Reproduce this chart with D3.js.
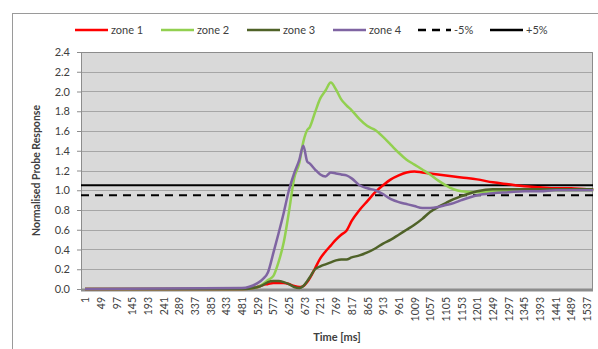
<!DOCTYPE html>
<html>
<head>
<meta charset="utf-8">
<script src="https://cdn.jsdelivr.net/npm/d3@7"></script>
<style>
  body { margin: 0; background: #fff; }
  svg text { font-family: Lato, "Open Sans", sans-serif; fill: #404040; }
</style>
</head>
<body>
<div id="chart"></div>
<script>
// sample times (ms) shared by all series
var times = [1, 481, 529, 545, 561, 577, 593, 609, 625, 641, 657, 669, 681, 689, 705, 721, 737, 753, 769, 785, 801, 817,
    841, 865, 889, 913, 937, 961, 985, 1009, 1033, 1057, 1081, 1105, 1129, 1153, 1201, 1249, 1297, 1345, 1393, 1441, 1489, 1537, 1556];

var zone1 = [0, 0.0, 0.02, 0.04, 0.05, 0.06, 0.06, 0.06, 0.05, 0.03, 0.02, 0.03, 0.07, 0.11, 0.21, 0.31, 0.38, 0.44, 0.50, 0.55, 0.59, 0.69,
    0.80, 0.89, 0.98, 1.05, 1.11, 1.15, 1.18, 1.19, 1.18, 1.17, 1.16, 1.15, 1.14, 1.13, 1.11, 1.08, 1.06, 1.04, 1.03, 1.02, 1.02, 1.01, 1.01];

var zone2 = [0, 0.0, 0.02, 0.05, 0.09, 0.13, 0.27, 0.47, 0.78, 1.12, 1.28, 1.49, 1.61, 1.64, 1.79, 1.93, 2.01, 2.09, 2.02, 1.92, 1.86, 1.81,
    1.72, 1.65, 1.61, 1.54, 1.46, 1.38, 1.31, 1.26, 1.21, 1.16, 1.10, 1.05, 1.01, 0.99, 0.98, 0.99, 0.99, 1.00, 1.00, 1.00, 1.00, 1.00, 1.00];

var zone3 = [0, 0.0, 0.02, 0.04, 0.07, 0.08, 0.08, 0.07, 0.05, 0.02, 0.01, 0.03, 0.08, 0.12, 0.20, 0.23, 0.25, 0.27, 0.29, 0.30, 0.30, 0.32,
    0.34, 0.37, 0.41, 0.46, 0.50, 0.55, 0.60, 0.65, 0.71, 0.78, 0.83, 0.87, 0.91, 0.94, 0.99, 1.01, 1.01, 1.01, 1.01, 1.01, 1.01, 1.01, 1.01];

var zone4 = [0, 0.01, 0.06, 0.10, 0.17, 0.36, 0.56, 0.77, 1.00, 1.17, 1.31, 1.45, 1.29, 1.27, 1.21, 1.16, 1.14, 1.18, 1.17, 1.16, 1.15, 1.12,
    1.05, 1.02, 1.00, 0.96, 0.91, 0.88, 0.86, 0.84, 0.82, 0.82, 0.83, 0.85, 0.87, 0.90, 0.95, 0.97, 0.98, 0.99, 0.99, 1.00, 1.00, 1.00, 1.00];

var lowerLimit = 0.95, upperLimit = 1.05;

var xTickLabels = d3.range(1, 1538, 48);
var yTicks = [0, 0.2, 0.4, 0.6, 0.8, 1.0, 1.2, 1.4, 1.6, 1.8, 2.0, 2.2, 2.4];

var series = [
    {name: "zone 1", values: zone1, color: "#ff0000"},
    {name: "zone 2", values: zone2, color: "#92d050"},
    {name: "zone 3", values: zone3, color: "#4f6228"},
    {name: "zone 4", values: zone4, color: "#7f64a2"}
];

var legendItems = [
    {label: "zone 1", color: "#ff0000", dash: null, x: 75},
    {label: "zone 2", color: "#92d050", dash: null, x: 161},
    {label: "zone 3", color: "#4f6228", dash: null, x: 247},
    {label: "zone 4", color: "#7f64a2", dash: null, x: 333},
    {label: "-5%", color: "#000", dash: "8,6", x: 418},
    {label: "+5%", color: "#000", dash: null, x: 490}
];

var W = 598, H = 349;
var margin = {top: 52, right: 5, bottom: 60, left: 81};
var width = W - margin.left - margin.right,
    height = 289 - margin.top;

var svg = d3.select("#chart").append("svg")
    .attr("width", W)
    .attr("height", H);

// outer chart border
svg.append("rect")
    .attr("x", 12.5).attr("y", 13.5)
    .attr("width", 620).attr("height", 400)
    .attr("fill", "none")
    .attr("stroke", "#9a9a9a");

var g = svg.append("g")
    .attr("transform", "translate(" + margin.left + "," + margin.top + ")");

var x = d3.scaleLinear()
    .domain([-11.2, 1555.4])
    .range([0, width]);

var y = d3.scaleLinear()
    .domain([0, 2.4])
    .range([height, 0]);

g.append("rect")
    .attr("width", width)
    .attr("height", height)
    .attr("fill", "#d9d9d9");

// gridlines
g.selectAll("line.grid")
    .data(yTicks.slice(1))
    .enter().append("line")
    .attr("class", "grid")
    .attr("x1", 0).attr("x2", width)
    .attr("y1", function(d) { return Math.round(y(d)) + 0.5; })
    .attr("y2", function(d) { return Math.round(y(d)) + 0.5; })
    .attr("stroke", "#a6a6a6")
    .attr("stroke-width", 1);

// plot border top/right
g.append("path")
    .attr("d", "M0,0.5H" + (width - 0.5) + "V" + height)
    .attr("fill", "none")
    .attr("stroke", "#8c8c8c");

// y axis
var yAxis = g.append("g")
    .call(d3.axisLeft(y).tickValues(yTicks).tickFormat(d3.format(".1f")).tickSize(4).tickPadding(7));
yAxis.select(".domain").attr("stroke", "#8c8c8c");
yAxis.selectAll(".tick line").attr("stroke", "#8c8c8c");
yAxis.selectAll("text").style("font-size", "11px").attr("fill", "#404040");

// x axis
var xAxis = g.append("g")
    .attr("transform", "translate(0," + height + ")")
    .call(d3.axisBottom(x).tickValues(xTickLabels).tickSize(0).tickFormat(d3.format("d")));
xAxis.select(".domain").remove();
xAxis.selectAll("text")
    .style("font-size", "10.5px")
    .attr("fill", "#404040")
    .attr("transform", "rotate(-90)")
    .attr("x", -8)
    .attr("y", 0)
    .attr("dy", "0.35em")
    .style("text-anchor", "end");

// thick bottom axis bar
g.append("line")
    .attr("x1", 0).attr("x2", width)
    .attr("y1", height + 1).attr("y2", height + 1)
    .attr("stroke", "#8c8c8c")
    .attr("stroke-width", 3);

// limit lines
g.append("line")
    .attr("x1", 0).attr("x2", width)
    .attr("y1", y(upperLimit)).attr("y2", y(upperLimit))
    .attr("stroke", "#000").attr("stroke-width", 2);
g.append("line")
    .attr("x1", 0).attr("x2", width)
    .attr("y1", y(lowerLimit)).attr("y2", y(lowerLimit))
    .attr("stroke", "#000").attr("stroke-width", 2)
    .attr("stroke-dasharray", "8,6");

// series lines
var line = d3.line()
    .curve(d3.curveMonotoneX)
    .x(function(d) { return x(d[0]); })
    .y(function(d) { return y(d[1]); });

series.forEach(function(s) {
    g.append("path")
        .datum(times.map(function(t, i) { return [t, s.values[i]]; }))
        .attr("fill", "none")
        .attr("stroke", s.color)
        .attr("stroke-width", 2.5)
        .attr("stroke-linejoin", "round")
        .attr("d", line);
});

// axis titles
svg.append("text")
    .attr("x", margin.left + width / 2)
    .attr("y", 341)
    .style("text-anchor", "middle")
    .style("font-size", "11px")
    .style("font-weight", "bold")
    .text("Time [ms]");

svg.append("text")
    .attr("transform", "translate(40," + (margin.top + height / 2) + ") rotate(-90)")
    .style("text-anchor", "middle")
    .style("font-size", "10.5px")
    .style("font-weight", "bold")
    .text("Normalised Probe Response");

// legend
var legend = svg.append("g").attr("transform", "translate(0,30)");
legendItems.forEach(function(d) {
    legend.append("line")
        .attr("x1", d.x).attr("x2", d.x + 33)
        .attr("y1", 0).attr("y2", 0)
        .attr("stroke", d.color)
        .attr("stroke-width", 2.5)
        .attr("stroke-dasharray", d.dash);
    legend.append("text")
        .attr("x", d.x + 36)
        .attr("y", 4)
        .style("font-size", "11px")
        .text(d.label);
});
</script>
</body>
</html>
